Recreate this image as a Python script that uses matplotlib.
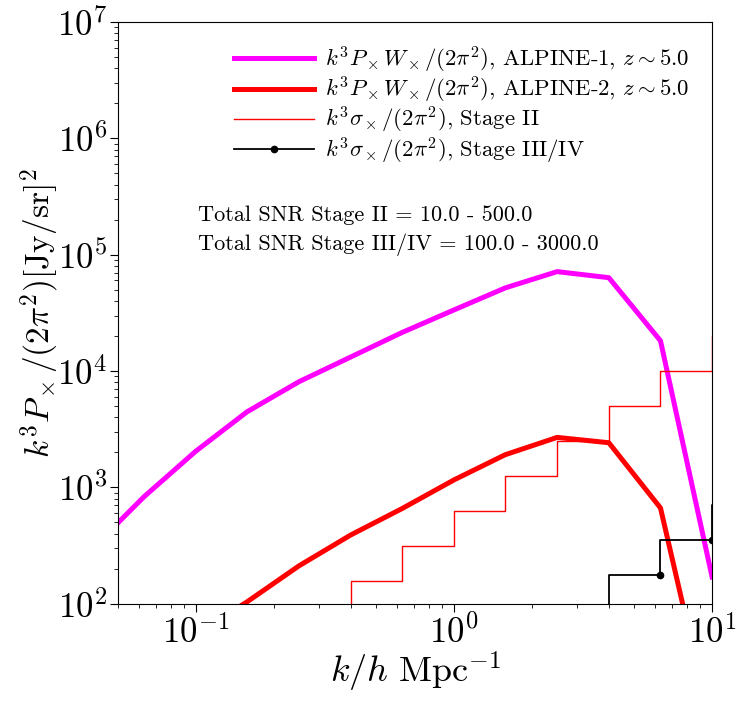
import numpy as np
import matplotlib
matplotlib.use('Agg')
import matplotlib.pyplot as plt

plt.rcParams['mathtext.fontset'] = 'cm'
plt.rcParams['font.family'] = 'serif'
plt.rcParams['font.serif'] = ['cmr10']
plt.rcParams['axes.formatter.use_mathtext'] = True
plt.rcParams['axes.unicode_minus'] = False

# k grid (h/Mpc)
k = [0.0398, 0.0631, 0.1, 0.158, 0.251, 0.398, 0.631, 1.0, 1.58, 2.51, 3.98, 6.31, 10.0]

alpine1 = [300, 835, 2050, 4470, 8100, 13200, 21500, 33500, 51800, 71500, 63400, 18200, 170]
alpine2 = [25, 50, 55, 104, 212, 390, 660, 1160, 1910, 2690, 2420, 666, 8]

# noise steps
k_stage2 = [0.398, 0.631, 1.0, 1.58, 2.51, 3.98, 6.31, 10.0, 15.8]
sig_stage2 = [79, 158, 316, 631, 1259, 2512, 5012, 10000, 20000]

k_stage34 = [3.98, 6.31, 10.0, 15.8]
sig_stage34 = [89, 178, 350, 700]

snr2 = (10.0, 500.0)
snr34 = (100.0, 3000.0)


def main():
    fig = plt.figure(figsize=(7.48, 7.07), dpi=100)
    ax = fig.add_axes([0.158, 0.146, 0.794, 0.823])

    ax.plot(k, alpine1, color='#ff00ff', lw=3.6,
            label=r'$k^3P_\times W_\times/(2\pi^2)$, ALPINE-1, $z\sim5.0$')
    ax.plot(k, alpine2, color='#ff0000', lw=3.6,
            label=r'$k^3P_\times W_\times/(2\pi^2)$, ALPINE-2, $z\sim5.0$')
    ax.plot(k_stage2, sig_stage2, color='#ff0000', lw=1.0, drawstyle='steps-pre',
            label=r'$k^3\sigma_\times/(2\pi^2)$, Stage II')
    ax.plot(k_stage34, sig_stage34, color='k', lw=1.3, drawstyle='steps-pre',
            marker='o', ms=4.5, label=r'$k^3\sigma_\times/(2\pi^2)$, Stage III/IV')

    ax.set_xscale('log')
    ax.set_yscale('log')
    ax.set_xlim(0.05, 10)
    ax.set_ylim(1e2, 1e7)

    ax.text(0.135, 0.668, 'Total SNR Stage II = %.1f - %.1f' % snr2,
            transform=ax.transAxes, fontsize=16, va='center')
    ax.text(0.135, 0.617, 'Total SNR Stage III/IV = %.1f - %.1f' % snr34,
            transform=ax.transAxes, fontsize=16, va='center')

    ax.tick_params(which='major', labelsize=25, length=6, pad=2)
    ax.tick_params(which='minor', length=3)
    ax.set_xlabel(r'$k/h\ \mathrm{Mpc}^{-1}$', fontsize=26, labelpad=0)
    ax.set_ylabel(r'$k^3P_\times/(2\pi^2)[\mathrm{Jy/sr}]^2$', fontsize=24, labelpad=-3)

    ax.legend(loc='upper right', frameon=False, fontsize=16.4, handlelength=3.5,
              borderaxespad=0.6, labelspacing=0.0, handletextpad=0.5)

    fig.savefig('out.png', dpi=100)


if __name__ == '__main__':
    main()
